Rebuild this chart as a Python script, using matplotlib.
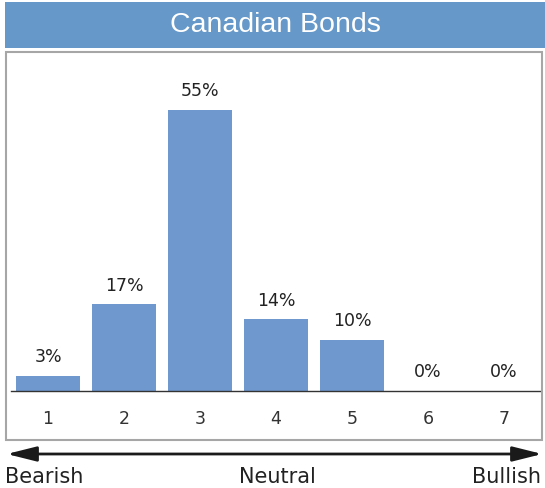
import matplotlib
matplotlib.use("Agg")
import matplotlib.pyplot as plt
from matplotlib.patches import Rectangle, FancyArrowPatch

categories = ["1", "2", "3", "4", "5", "6", "7"]
values = [3, 17, 55, 14, 10, 0, 0]
labels = ["3%", "17%", "55%", "14%", "10%", "0%", "0%"]
title = "Canadian Bonds"
scale_labels = ["Bearish", "Neutral", "Bullish"]

W, H = 545, 489
DPI = 100
fig = plt.figure(figsize=(W / DPI, H / DPI), dpi=DPI)
fig.patch.set_facecolor("white")

def fx(px):
    return px / W

def fy(py):
    return 1 - py / H

# title bar
fig.patches.append(Rectangle((fx(5), fy(49)), fx(545) - fx(5), fy(3) - fy(49),
                             transform=fig.transFigure, facecolor="#6699C9",
                             edgecolor="none", zorder=0))
fig.text(fx(275), fy(25), title, color="white", fontsize=20.5,
         family="Liberation Sans", ha="center", va="center")

# frame box
fig.patches.append(Rectangle((fx(5.5), fy(441)), fx(542) - fx(5.5), fy(52.5) - fy(441),
                             transform=fig.transFigure, facecolor="none",
                             edgecolor="#A6A6A6", linewidth=1.5, zorder=0))

# axes
ax_left, ax_right = 11, 540
ax_bottom, ax_top = 392, 392 - 65 * 5.109
ax = fig.add_axes([fx(ax_left), fy(ax_bottom), fx(ax_right) - fx(ax_left),
                   fy(ax_top) - fy(ax_bottom)])
ax.set_facecolor("none")
x = list(range(1, len(categories) + 1))
ax.bar(x, values, width=0.84, color="#6F98CF", zorder=2)
ax.set_xlim(0.513, 7.474)
ax.set_ylim(0, 65)
for s in ["top", "right", "left"]:
    ax.spines[s].set_visible(False)
ax.spines["bottom"].set_color("#333333")
ax.spines["bottom"].set_linewidth(1.0)
ax.set_yticks([])
ax.set_xticks(x)
ax.set_xticklabels(categories, fontsize=12.5, color="#333333")
ax.tick_params(axis="x", length=0, pad=13)
for xi, v, lab in zip(x, values, labels):
    ax.annotate(lab, (xi, v), xytext=(0, 10.5), textcoords="offset points",
                ha="center", va="baseline", fontsize=12.5, color="#222222")

# arrow
arr = FancyArrowPatch((fx(4), fy(455)), (fx(545), fy(455)), transform=fig.transFigure,
                      arrowstyle="<|-|>,head_length=1.8,head_width=0.45",
                      mutation_scale=10, linewidth=2.0, color="#1a1a1a")
fig.patches.append(arr)

fig.text(fx(5), fy(483), scale_labels[0], fontsize=15, color="#222222",
         ha="left", va="baseline")
fig.text(fx(277), fy(483), scale_labels[1], fontsize=15, color="#222222",
         ha="center", va="baseline")
fig.text(fx(541), fy(483), scale_labels[2], fontsize=15, color="#222222",
         ha="right", va="baseline")

fig.savefig("out.png", dpi=DPI)
